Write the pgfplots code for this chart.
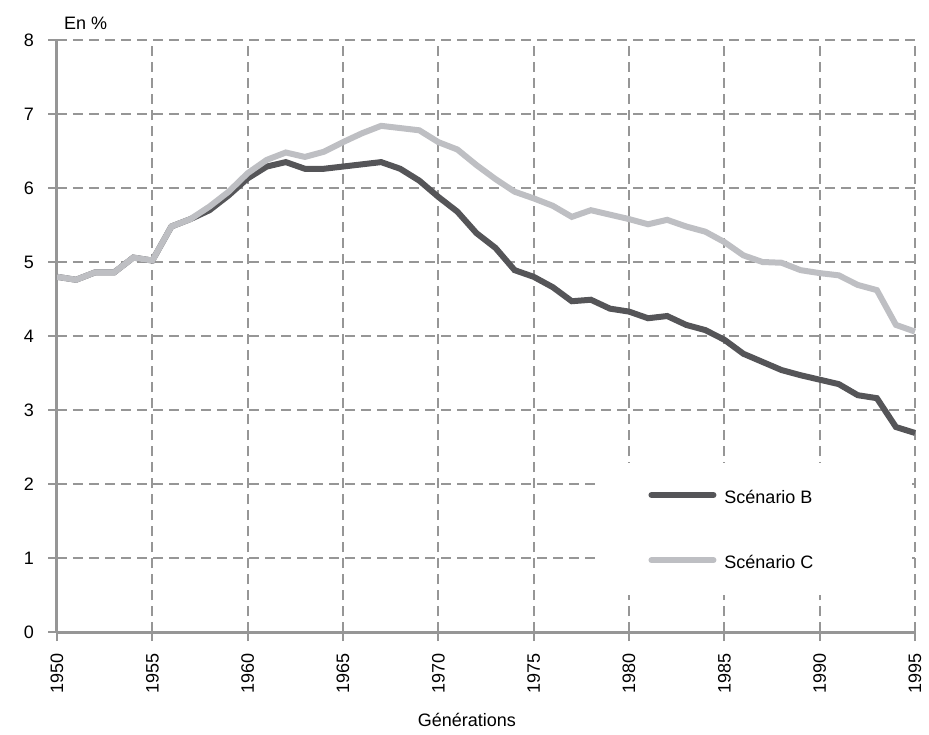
\documentclass[border=0pt]{standalone}
\usepackage{fontspec}
\setmainfont{Liberation Sans}
\usepackage{pgfplots}
\usepackage{pgfplotstable}
\pgfplotsset{compat=1.18}
\definecolor{scenB}{RGB}{85,85,88}
\definecolor{scenC}{RGB}{190,191,195}
\definecolor{gridgray}{RGB}{150,150,150}

\pgfplotstableread{
year B C
1950 4.80 4.80
1951 4.76 4.76
1952 4.86 4.86
1953 4.86 4.86
1954 5.06 5.06
1955 5.02 5.02
1956 5.48 5.48
1957 5.58 5.58
1958 5.70 5.75
1959 5.90 5.95
1960 6.13 6.20
1961 6.29 6.38
1962 6.35 6.48
1963 6.26 6.42
1964 6.26 6.49
1965 6.29 6.62
1966 6.32 6.74
1967 6.35 6.84
1968 6.26 6.81
1969 6.10 6.78
1970 5.88 6.62
1971 5.68 6.52
1972 5.39 6.31
1973 5.19 6.12
1974 4.89 5.95
1975 4.80 5.86
1976 4.66 5.76
1977 4.47 5.61
1978 4.49 5.70
1979 4.37 5.64
1980 4.33 5.58
1981 4.24 5.51
1982 4.27 5.57
1983 4.15 5.48
1984 4.08 5.41
1985 3.95 5.27
1986 3.76 5.09
1987 3.65 5.00
1988 3.54 4.99
1989 3.47 4.89
1990 3.41 4.85
1991 3.35 4.82
1992 3.20 4.69
1993 3.16 4.62
1994 2.77 4.15
1995 2.69 4.06
}\scen

\begin{document}
\begin{tikzpicture}
\begin{axis}[scale only axis,width=429pt,height=296pt,
  xmin=1950,xmax=1995,ymin=0,ymax=8,
  xtick={1950,1955,...,1995},ytick={0,1,...,8},
  axis lines=left,axis line style={-,gridgray,line width=1.5pt},
  grid=major,grid style={gridgray,line width=1pt,dash pattern=on 5pt off 3pt},
  tick style={gridgray,line width=1pt},tick align=outside,major tick length=4.5pt,
  /pgf/number format/assume math mode=true,
  /pgf/number format/1000 sep={},
  tick label style={font=\fontsize{9}{11}\selectfont},
  xticklabel style={yshift=-2.5pt,rotate=90,anchor=east},
  yticklabel style={xshift=-3.5pt},
  clip=false,
  legend style={at={(axis cs:1981,1.37)},anchor=west,draw=none,fill=none,
    inner sep=0pt,row sep=22.5pt,font=\fontsize{9}{11}\selectfont,
    nodes={inner sep=1pt},
    /tikz/every odd column/.append style={column sep=3pt}},
  legend cell align=left,
  legend image code/.code={\draw[#1,line cap=round] (0pt,1.5pt) -- (31pt,1.5pt);}]
\addplot[scenB,line width=3pt] table[x=year,y=B] {\scen};
\addlegendentry{Scénario B}
\addplot[scenC,line width=3pt] table[x=year,y=C] {\scen};
\addlegendentry{Scénario C}
\fill[white] (axis cs:1978.37,0.5) rectangle (axis cs:1994.84,2.284);
\node[anchor=base west,font=\fontsize{9}{11}\selectfont] at (rel axis cs:0,1) [yshift=5.5pt] {En \%};
\node[font=\fontsize{9}{11}\selectfont] at (axis cs:1971.5,0) [yshift=-44pt] {Générations};
\coordinate (sw) at (rel axis cs:0,0);
\coordinate (ne) at (rel axis cs:1,1);
\end{axis}
\pgfresetboundingbox
\path ([xshift=-28.5pt,yshift=-51pt]sw) rectangle ([xshift=7pt,yshift=20pt]ne);
\end{tikzpicture}
\end{document}
